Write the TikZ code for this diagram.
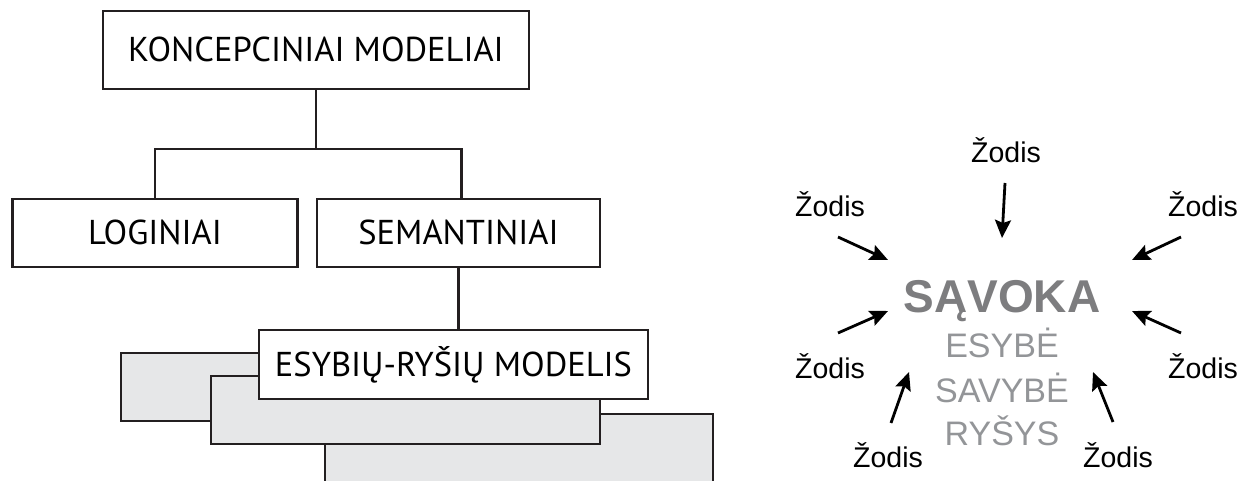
\documentclass[tikz,border=0pt]{standalone}
\usepackage{fontspec}
\setmainfont{Liberation Sans}
\newfontfamily\boxfont{PT Sans}
\usetikzlibrary{arrows.meta}
\definecolor{edge}{HTML}{231F20}
\definecolor{boxgray}{HTML}{E6E7E8}
\definecolor{termdark}{HTML}{7D7D7F}
\definecolor{termlight}{HTML}{939598}
\begin{document}
\begin{tikzpicture}[x=1pt,y=-1pt,
  level/.style={draw=edge, line width=2.8pt, fill=white, inner sep=0pt,
    text height=24pt, text depth=0pt,
    font=\boxfont\fontsize{34.5}{34.5}\selectfont},
  stack/.style={draw=edge, line width=2.8pt, fill=boxgray},
  link/.style={draw=edge, line width=2.8pt},
  word/.style={anchor=base, inner sep=0pt, font=\fontsize{28.5}{28.5}\selectfont},
  term/.style={anchor=base, inner sep=0pt, text=termlight, font=\fontsize{34}{34}\selectfont},
  pointer/.style={draw=black, line width=2.8pt, -{Stealth[length=18pt,width=16pt,inset=3pt]}},
]
\useasboundingbox (0,0) rectangle (1256,481);
\clip (0,0) rectangle (1256,481);

% hierarchy of conceptual models
\node[level, minimum width=426pt, minimum height=78pt] (top) at (316,50) {KONCEPCINIAI MODELIAI};
\node[level, minimum width=285pt, minimum height=68pt] (log) at (155,233) {LOGINIAI};
\node[level, minimum width=283pt, minimum height=68pt] (sem) at (458.5,233) {SEMANTINIAI};

\coordinate (fork) at (316,149);
\draw[link] (top.south) -- (fork);
\draw[link] (log.north) |- (fork) -| ([xshift=3pt]sem.north);

% stacked model sheets
\draw[stack] (121,353) rectangle (560,421);
\draw[stack] (325,414) rectangle (713,500);
\draw[stack] (211,376) rectangle (600,444);
\node[level, minimum width=389pt, minimum height=69pt] (er) at (453.5,364.5) {ESYBIŲ-RYŠIŲ MODELIS};
\draw[link] (sem.south) -- (sem.south |- er.north);

% concept surrounded by words
\node[anchor=base, inner sep=0pt, text=termdark, font=\bfseries\fontsize{46}{46}\selectfont] (concept) at (1002,312) {SĄVOKA};
\node[term] (ent) at (1002,357) {ESYBĖ};
\node[term] (prop) at (1002,402) {SAVYBĖ};
\node[term] (rel) at (1002,445) {RYŠYS};

\node[word] (wt) at (1006,163) {Žodis};
\node[word] (wul) at (830,217) {Žodis};
\node[word] (wur) at (1203,217) {Žodis};
\node[word] (wll) at (830,378) {Žodis};
\node[word] (wlr) at (1203,378) {Žodis};
\node[word] (wbl) at (888,467) {Žodis};
\node[word] (wbr) at (1118,467) {Žodis};

\coordinate (at0) at (1005,183);  \coordinate (at1) at (1002,238);
\coordinate (aul0) at (838,237);  \coordinate (aul1) at (888,260);
\coordinate (aur0) at (1181,237); \coordinate (aur1) at (1132,260);
\coordinate (all0) at (838,333);  \coordinate (all1) at (888,311);
\coordinate (alr0) at (1181,333); \coordinate (alr1) at (1132,311);
\coordinate (abl0) at (891,423);  \coordinate (abl1) at (909,372);
\coordinate (abr0) at (1113,422); \coordinate (abr1) at (1093,372);

\draw[pointer] (at0) -- (at1);
\draw[pointer] (aul0) -- (aul1);
\draw[pointer] (aur0) -- (aur1);
\draw[pointer] (all0) -- (all1);
\draw[pointer] (alr0) -- (alr1);
\draw[pointer] (abl0) -- (abl1);
\draw[pointer] (abr0) -- (abr1);
\end{tikzpicture}
\end{document}
